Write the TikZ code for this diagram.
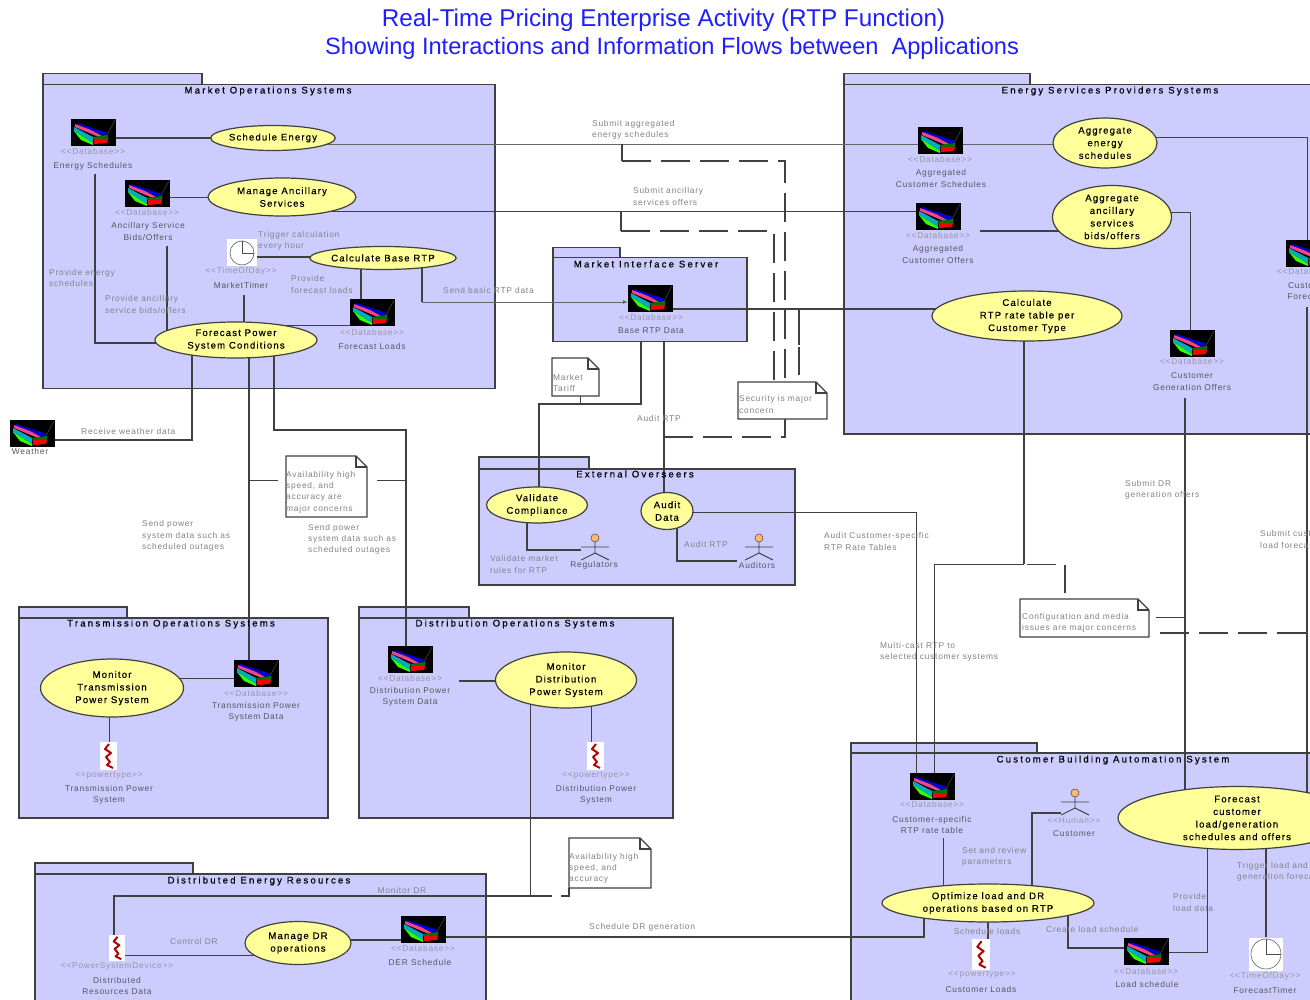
\documentclass[tikz,border=0pt]{standalone}
\usepackage{fontspec}
\usetikzlibrary{shapes.geometric,arrows.meta}
\setmainfont{Liberation Sans}
\newfontfamily\lblfam[LetterSpace=9]{Liberation Sans}
\newfontfamily\ellfam[LetterSpace=12,FakeBold=0.4]{Liberation Sans}
\newfontfamily\ttlfam[LetterSpace=23,FakeBold=0.4]{Liberation Sans}
\definecolor{pkfill}{RGB}{204,204,255}
\definecolor{elfill}{RGB}{255,255,153}
\definecolor{ln}{RGB}{64,64,64}
\definecolor{txa}{RGB}{130,130,135}
\definecolor{txb}{RGB}{150,150,165}
\definecolor{txc}{RGB}{85,85,90}
\definecolor{ttl}{RGB}{30,30,255}
\pgfdeclarelayer{pk}\pgfdeclarelayer{cn}\pgfsetlayers{pk,cn,main}
\tikzset{
  pkbox/.style={draw=ln,line width=1.5pt,fill=pkfill,anchor=north west,inner sep=0pt,rectangle},
  pktitle/.style={font=\ttlfam\fontsize{9.6}{11}\selectfont,text=black,inner sep=0pt},
  uc/.style={ellipse,draw=ln,line width=1.2pt,fill=elfill,inner sep=0pt,align=center,font=\ellfam\fontsize{9.6}{12.6}\selectfont,text=black},
  lbl/.style={font=\lblfam\fontsize{8.4}{11.3}\selectfont,text=txa,inner sep=0pt,align=left,anchor=west},
  ster/.style={font=\lblfam\fontsize{8.4}{11}\selectfont,text=txb,inner sep=0pt,align=center},
  nam/.style={font=\lblfam\fontsize{8.4}{11.6}\selectfont,text=txc,inner sep=0pt,align=center},
  conn/.style={draw=ln,line width=0.9pt},
  connb/.style={draw=ln,line width=1.5pt},
  conng/.style={draw=ln!80,line width=0.9pt},
  dsh/.style={draw=ln,line width=1.2pt,dash pattern=on 29pt off 10pt},
  dbb/.style={rectangle,fill=black,inner sep=0pt,anchor=north west,minimum width=45pt,minimum height=27pt},
  whb/.style={rectangle,fill=white,inner sep=0pt,anchor=north west},
  notepath/.style={draw=ln,line width=1.2pt,fill=white},
  ttlnode/.style={text=ttl,inner sep=0pt,align=center},
}
\newcommand{\dbicon}[3]{%
  \node[dbb] (#1) at (#2,#3) {};
  \begin{scope}[shift={(#2,#3)}]
    \fill[blue!85!black] (6,4)--(37,14)--(33,17)--(20,11)--(6,6)--cycle;
    \fill[magenta!70!red!75!white] (4,5)--(20,11)--(33,18)--(30,19)--(4,8)--cycle;
    \fill[cyan!70!green] (3,8)--(22,18)--(22,24)--(3,12)--cycle;
    \fill[green!80!yellow] (3,12)--(22,24)--(22,26)--(10,21)--cycle;
    \fill[green!45!black] (22,18)--(37,16)--(37,20)--(23,20)--cycle;
    \fill[red] (23,20)--(37,20)--(36,24)--(23,25)--cycle;
    \draw[black!60,line width=0.3pt] (44,1)--(36,16);
  \end{scope}}
\newcommand{\clockicon}[6]{% name cx cy w h r
  \node[rectangle,fill=white,inner sep=0pt,minimum width=#4pt,minimum height=#5pt] (#1) at (#2,#3) {};
  \draw[black!55,line width=0.7pt] (#2,#3) circle (#6pt);
  \draw[black!70,line width=0.7pt] (#2,#3-#6) -- (#2,#3) -- (#2+#6,#3);}
\newcommand{\zigicon}[5]{% name x y w h
  \node[whb,minimum width=#4pt,minimum height=#5pt] (#1) at (#2,#3) {};
  \begin{scope}[shift={(#2,#3)},x=#4pt/17,y=-#5pt/28]
    \draw[red!70!black,line width=2pt,line join=round] (9,2)--(5,7)--(11,11)--(6,15)--(10,20)--(7,23)--(13,26);
  \end{scope}}
\newcommand{\actor}[3]{% name head-x head-y
  \node[circle,draw=ln,line width=0.5pt,fill=orange!55!white,minimum size=8pt,inner sep=0pt] (#1) at (#2,#3) {};
  \draw[ln,line width=0.9pt] (#2,#3+4)--(#2,#3+15) (#2-14,#3+9)--(#2+14,#3+9) (#2-14,#3+22)--(#2,#3+15)--(#2+14,#3+22);}
\newcommand{\notebox}[5]{% name x1 y1 x2 y2
  \node[rectangle,inner sep=0pt,anchor=north west,minimum width=#4pt-#2pt,minimum height=#5pt-#3pt] (#1) at (#2,#3) {};
  \draw[notepath] (#2,#3)--(#4-11,#3)--(#4,#3+11)--(#4,#5)--(#2,#5)--cycle;
  \draw[ln,line width=1.2pt] (#4-11,#3)--(#4-11,#3+11)--(#4,#3+11);}
\begin{document}
\begin{tikzpicture}[x=1pt,y=-1pt]
\useasboundingbox (0,0) rectangle (1310,1000);
% title
\node[ttlnode,font=\fontsize{24.25}{28}\selectfont] (title1) at (663.5,20) {Real-Time Pricing Enterprise Activity (RTP Function)};
\node[ttlnode,font=\fontsize{23.6}{28}\selectfont] (title2) at (672,48) {Showing Interactions and Information Flows between\ \ Applications};
% packages
\begin{pgfonlayer}{pk}
\fill[white] (0,0) rectangle (1310,1000);
\node[pkbox,minimum width=159pt,minimum height=16pt] (motab) at (42,73) {};
\node[pkbox,minimum width=452pt,minimum height=304pt] (mo) at (42,84) {};
\node[pkbox,minimum width=186pt,minimum height=16pt] (estab) at (843,73) {};
\node[pkbox,minimum width=500pt,minimum height=349pt] (es) at (843,84) {};
\node[pkbox,minimum width=67pt,minimum height=14pt] (mitab) at (552,247) {};
\node[pkbox,minimum width=194pt,minimum height=84pt] (mi) at (552,257) {};
\node[pkbox,minimum width=110pt,minimum height=16pt] (eotab) at (478,456) {};
\node[pkbox,minimum width=316pt,minimum height=116pt] (eo) at (478,468) {};
\node[pkbox,minimum width=108pt,minimum height=16pt] (trtab) at (18,606) {};
\node[pkbox,minimum width=309pt,minimum height=200pt] (tr) at (18,617) {};
\node[pkbox,minimum width=110pt,minimum height=16pt] (ditab) at (358,606) {};
\node[pkbox,minimum width=314pt,minimum height=200pt] (di) at (358,617) {};
\node[pkbox,minimum width=158pt,minimum height=16pt] (dertab) at (34,862) {};
\node[pkbox,minimum width=451pt,minimum height=160pt] (der) at (34,873) {};
\node[pkbox,minimum width=186pt,minimum height=16pt] (cbtab) at (850,742) {};
\node[pkbox,minimum width=500pt,minimum height=280pt] (cb) at (850,752) {};
\end{pgfonlayer}
\node[pktitle] (t1) at (268,91) {Market Operations Systems};
\node[pktitle] (t2) at (1110,91) {Energy Services Providers Systems};
\node[pktitle] (t3) at (646,264) {Market Interface Server};
\node[pktitle] (t4) at (635,474) {External Overseers};
\node[pktitle] (t5) at (171,624) {Transmission Operations Systems};
\node[pktitle] (t6) at (515,624) {Distribution Operations Systems};
\node[pktitle] (t7) at (259,881) {Distributed Energy Resources};
\node[pktitle] (t8) at (1113,760) {Customer Building Automation System};
% use cases
\node[uc,minimum width=121pt,minimum height=25pt] (se) at (273,138) {Schedule Energy};
\node[uc,minimum width=148pt,minimum height=38pt] (ma) at (282,197) {Manage Ancillary\\Services};
\node[uc,minimum width=133pt,minimum height=23pt] (cb1) at (383,258) {Calculate Base RTP};
\node[uc,minimum width=162pt,minimum height=36pt] (fp) at (236,340) {Forecast Power\\System Conditions};
\node[uc,minimum width=104pt,minimum height=50pt] (ae) at (1105,143) {Aggregate\\energy\\schedules};
\node[uc,minimum width=119pt,minimum height=63pt] (aa) at (1112,217) {Aggregate\\ancillary\\services\\bids/offers};
\node[uc,minimum width=190pt,minimum height=50pt] (cr) at (1027,316) {Calculate\\RTP rate table per\\Customer Type};
\node[uc,minimum width=101pt,minimum height=36pt] (vc) at (537,505) {Validate\\Compliance};
\node[uc,minimum width=52pt,minimum height=37pt] (ad) at (667,511) {Audit\\Data};
\node[uc,minimum width=143pt,minimum height=58pt] (mt) at (112,688) {Monitor\\Transmission\\Power System};
\node[uc,minimum width=141pt,minimum height=56pt] (md) at (566,680) {Monitor\\Distribution\\Power System};
\node[uc,minimum width=106pt,minimum height=43pt] (mdr) at (298,943) {Manage DR\\operations};
\node[uc,minimum width=212pt,minimum height=38pt] (op) at (988,903) {Optimize load and DR\\operations based on RTP};
\node[uc,minimum width=238pt,minimum height=61pt] (fc) at (1237,818) {Forecast\\customer\\load/generation\\schedules and offers};
% icons
\dbicon{dbes}{71}{119}
\dbicon{dbas}{125}{180}
\dbicon{dbfl}{350}{299}
\dbicon{dbwe}{10}{420}
\dbicon{dbrt}{628}{285}
\dbicon{dbac}{918}{127}
\dbicon{dbao}{916}{203}
\dbicon{dbcf}{1286}{240}
\dbicon{dbcg}{1170}{330}
\dbicon{dbtr}{234}{660}
\dbicon{dbdi}{388}{646}
\dbicon{dbde}{401}{916}
\dbicon{dbcs}{910}{773}
\dbicon{dbls}{1124}{938}
\clockicon{ckm}{242}{253}{30}{27}{12}
\clockicon{ckf}{1266}{954}{34}{33}{15}
\zigicon{zgt}{100}{742}{17}{28}
\zigicon{zgd}{587}{742}{17}{28}
\zigicon{zgc}{972}{939}{18}{31}
\zigicon{zgr}{109}{935}{16}{26}
\actor{acr}{595}{538}
\actor{aca}{759}{538}
\actor{acc}{1075}{793}
% notes
\notebox{ntm}{552}{358}{599}{396}
\notebox{nts}{738}{382}{827}{419}
\notebox{nta}{286}{456}{367}{517}
\notebox{ntc}{1020}{599}{1149}{637}
\notebox{ntb}{569}{838}{651}{888}
% free ends
\coordinate (fesd) at (95,174);
\coordinate (fead) at (167,246);
\coordinate (fekt) at (244,295);
\coordinate (fedi) at (459,681);
\coordinate (fetm) at (1185,398);
\coordinate (fecf) at (1307,307);
\coordinate (fecs) at (943,838);
\coordinate (fema) at (980,231);
\coordinate (fan1) at (278,480);
\coordinate (fan2) at (377,480);
\coordinate (fmdr) at (552,896);
\coordinate (fcf1) at (1056,564);
\coordinate (fcf2) at (1156,617);
\coordinate (fcf3) at (1160,633);
\coordinate (fcf4) at (1065,593);
\coordinate (fsc1) at (799,345);
\coordinate (fsc2) at (799,347);
\coordinate (fsc3) at (799,375);
\coordinate (acch) at (1061,813);
\coordinate (acrh) at (581,550);
\coordinate (acah) at (737,561);
% connectors
\begin{pgfonlayer}{cn}
\draw[connb] (dbes.east |- 0,138) -- (se.center |- 0,138);
\draw[conn] (dbas.east |- 0,197) -- (ma.center |- 0,197);
\draw[conng] (se.center |- 0,144) -- (dbac.west |- 0,144);
\draw[conng] (dbac.east |- 0,144) -- (ae.center |- 0,144);
\draw[conn] (ma.center |- 0,211) -- (dbao.west |- 0,211);
\draw[connb] (fema) -- (aa.center |- 0,231);
\draw[connb] (fesd) -- (95,343) -- (fp.center |- 0,343);
\draw[connb] (fead) -- (fp.center -| 167,0);
\draw[connb] (fekt) -- (fp.center -| 244,0);
\draw[connb] (ckm.east |- 0,257) -- (cb1.center |- 0,257);
\draw[connb] (cb1.center -| 361,0) -- (dbfl.north -| 361,0);
\draw[conn] (dbfl.west |- 0,325) -- (fp.center |- 0,325);
\draw[connb] (cb1.center -| 422,0) -- (422,302);
\draw[conng,-{Latex[length=5pt,width=4pt]}] (422,302) -- (dbrt.west |- 0,302);
\draw[connb] (fp.center -| 192,0) -- (192,440) -- (dbwe.east |- 0,440);
\draw[connb] (fp.center -| 249,0) -- (dbtr.north -| 249,0);
\draw[connb] (fp.center -| 274,0) -- (274,430) -- (406,430) -- (dbdi.north -| 406,0);
\draw[conn] (249,480) -- (fan1);
\draw[conn] (fan2) -- (406,480);
\draw[connb] (dbrt.east |- 0,309) -- (cr.center |- 0,309);
\draw[connb] (mi.south -| 641,0) -- (641,404) -- (539,404) -- (vc.center -| 539,0);
\draw[conn] (ntm.south -| 580,0) -- (580,404);
\draw[connb] (mi.south -| 664,0) -- (ad.center -| 664,0);
\draw[dsh] (664,437) -- (785,437) -- (nts.south -| 785,0);
\draw[connb] (622,144) -- (622,161);
\draw[dsh] (622,161) -- (785,161) -- (nts.north -| 785,0);
\draw[connb] (621,211) -- (621,231);
\draw[dsh] (621,231) -- (774,231) -- (nts.north -| 774,0);
\draw[connb] (fsc1 |- 0,309) -- (fsc1);
\draw[connb] (fsc2) -- (fsc3);
\draw[connb] (cr.center -| 1024,0) -- (1024,564);
\draw[conn] (1024,564) -- (934,564) -- (dbcs.north -| 934,0);
\draw[conn] (ad.center |- 0,512) -- (916,512) -- (dbcs.north -| 916,0);
\draw[conn] (1027,564) -- (fcf1);
\draw[connb] (1065,565) -- (fcf4);
\draw[conn] (fcf2) -- (1185,617);
\draw[dsh] (fcf3) -- (1307,633);
\draw[connb] (fetm) -- (fc.center -| 1185,0);
\draw[conn] (aa.center |- 0,212) -- (1190,212) -- (dbcg.north -| 1190,0);
\draw[conn] (ae.center |- 0,137) -- (1307,137) -- (dbcf.north -| 1307,0);
\draw[connb] (fecf) -- (fc.center -| 1307,0);
\draw[conn] (fecs) -- (op.center -| 943,0);
\draw[connb] (acch) -- (1032,813) -- (op.center -| 1032,0);
\draw[connb] (op.center -| 924,0) -- (924,937) -- (dbde.east |- 0,937);
\draw[connb] (op.center -| 988,0) -- (zgc.north -| 988,0);
\draw[connb] (op.center -| 1068,0) -- (1068,948) -- (dbls.west |- 0,948);
\draw[conn] (dbls.east |- 0,952) -- (1207,952) -- (fc.center -| 1207,0);
\draw[connb] (ckf.north -| 1266,0) -- (fc.center -| 1266,0);
\draw[conn] (mt.center |- 0,678) -- (dbtr.west |- 0,678);
\draw[conn] (mt.center -| 109,0) -- (zgt.north -| 109,0);
\draw[connb] (fedi) -- (md.center |- 0,681);
\draw[conn] (md.center -| 591,0) -- (zgd.north -| 591,0);
\draw[conn] (md.center -| 530,0) -- (530,896);
\draw[connb] (zgr.north -| 114,0) -- (114,896) -- (fmdr);
\draw[connb] (561,896) -- (569,896) -- (ntb.south -| 569,0);
\draw[connb] (mdr.center |- 0,940) -- (dbde.west |- 0,940);
\draw[conn] (zgr.east |- 0,955) -- (mdr.center |- 0,955);
\draw[connb] (vc.center -| 527,0) -- (527,550) -- (acrh);
\draw[connb] (ad.center -| 677,0) -- (677,561) -- (acah);
\end{pgfonlayer}
% db / icon captions
\node[ster] (s1) at (93,152) {<<Database>>};
\node[nam] (n1) at (93,166) {Energy Schedules};
\node[ster] (s2) at (147,212) {<<Database>>};
\node[nam] (n2) at (148,231.5) {Ancillary Service\\Bids/Offers};
\node[ster] (s3) at (241,271) {<<TimeOfDay>>};
\node[nam] (n3) at (241,285) {MarketTimer};
\node[ster] (s4) at (372,332) {<<Database>>};
\node[nam] (n4) at (372,346) {Forecast Loads};
\node[nam] (n5) at (30,451) {Weather};
\node[ster] (s6) at (651,317) {<<Database>>};
\node[nam] (n6) at (651,331) {Base RTP Data};
\node[ster] (s7) at (940,160) {<<Database>>};
\node[nam] (n7) at (941,178.5) {Aggregated\\Customer Schedules};
\node[ster] (s8) at (938,235) {<<Database>>};
\node[nam] (n8) at (938,254.5) {Aggregated\\Customer Offers};
\node[ster] (s9) at (1309,271) {<<Database>>};
\node[nam] (n9) at (1309,291) {Customer\\Forecasts};
\node[ster] (s10) at (1192,361) {<<Database>>};
\node[nam] (n10) at (1192,381.5) {Customer\\Generation Offers};
\node[nam] (n11) at (594,565) {Regulators};
\node[nam] (n12) at (757,565) {Auditors};
\node[ster] (s13) at (256,693) {<<Database>>};
\node[nam] (n13) at (256,712) {Transmission Power\\System Data};
\node[ster] (s14) at (109,776) {<<powertype>>};
\node[nam] (n14) at (109,795) {Transmission Power\\System};
\node[ster] (s15) at (410,678) {<<Database>>};
\node[nam] (n15) at (410,697) {Distribution Power\\System Data};
\node[ster] (s16) at (596,776) {<<powertype>>};
\node[nam] (n16) at (596,795) {Distribution Power\\System};
\node[ster] (s17) at (932,804) {<<Database>>};
\node[nam] (n17) at (932,825) {Customer-specific\\RTP rate table};
\node[ster] (s18) at (1074,821) {<<Human>>};
\node[nam] (n18) at (1074,834) {Customer};
\node[ster] (s19) at (982,975) {<<powertype>>};
\node[nam] (n19) at (981,989) {Customer Loads};
\node[ster] (s20) at (1146,971) {<<Database>>};
\node[nam] (n20) at (1147,984) {Load schedule};
\node[ster] (s21) at (1265,976) {<<TimeOfDay>>};
\node[nam] (n21) at (1265,990) {ForecastTimer};
\node[ster] (s22) at (117,966) {<<PowerSystemDevice>>};
\node[nam] (n22) at (117,986) {Distributed\\Resources Data};
\node[ster] (s23) at (423,948) {<<Database>>};
\node[nam] (n23) at (420,962) {DER Schedule};
% flow labels
\node[lbl] (l1) at (258,241) {Trigger calculation\\every hour};
\node[lbl] (l2) at (49,278) {Provide energy\\schedules};
\node[lbl] (l3) at (105,304.5) {Provide ancillary\\service bids/offers};
\node[lbl] (l4) at (291,284.5) {Provide\\forecast loads};
\node[lbl] (l5) at (443,290) {Send basic RTP data};
\node[lbl] (l6) at (81,431) {Receive weather data};
\node[lbl] (l7) at (592,130) {Submit aggregated\\energy schedules};
\node[lbl] (l8) at (633,196.5) {Submit ancillary\\services offers};
\node[lbl] (l9) at (553,383) {Market\\Tariff};
\node[lbl] (l10) at (739,404.5) {Security is major\\concern};
\node[lbl] (l11) at (637,418) {Audit RTP};
\node[lbl] (l12) at (490,564.5) {Validate market\\rules for RTP};
\node[lbl] (l13) at (684,544) {Audit RTP};
\node[lbl] (l14) at (824,541.5) {Audit Customer-specific\\RTP Rate Tables};
\node[lbl] (l15) at (286,492) {Availability high\\speed, and\\accuracy are\\major concerns};
\node[lbl] (l16) at (142,536) {Send power\\system data such as\\scheduled outages};
\node[lbl] (l17) at (308,539.5) {Send power\\system data such as\\scheduled outages};
\node[lbl] (l18) at (880,652) {Multi-cast RTP to\\selected customer systems};
\node[lbl] (l19) at (1125,489.5) {Submit DR\\generation offers};
\node[lbl] (l20) at (1260,539.5) {Submit customer\\load forecasts};
\node[lbl] (l21) at (1022,622.5) {Configuration and media\\issues are major concerns};
\node[lbl] (l22) at (962,857) {Set and review\\parameters};
\node[lbl] (l23) at (1173,902.5) {Provide\\load data};
\node[lbl] (l24) at (1237,872) {Trigger load and\\generation forecast};
\node[lbl,anchor=center] (l25) at (987,931) {Schedule loads};
\node[lbl] (l26) at (1046,929) {Create load schedule};
\node[lbl,anchor=center] (l27) at (402,890) {Monitor DR};
\node[lbl,anchor=center] (l28) at (194,941) {Control DR};
\node[lbl] (l29) at (589,927) {Schedule DR generation};
\node[lbl] (l30) at (569,868.5) {Availability high\\speed, and\\accuracy};
\end{tikzpicture}
\end{document}
